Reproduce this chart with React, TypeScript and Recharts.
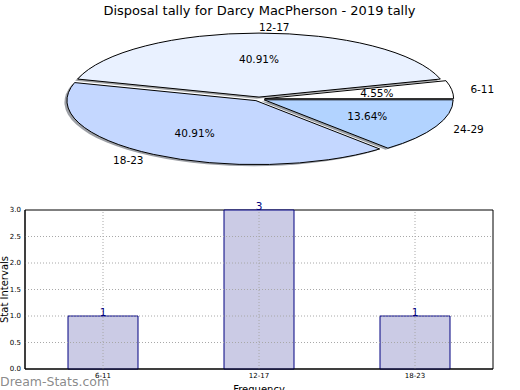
import React from 'react';
import { PieChart, Pie, BarChart, Bar, XAxis, YAxis, ReferenceLine, ReferenceArea, LabelList, Label } from 'recharts';

const TITLE = 'Disposal tally for Darcy MacPherson - 2019 tally';
const pieLabels = ['6-11', '12-17', '18-23', '24-29'];
const pieValues = [1, 9, 9, 3];
const pieColors = ['#ffffff', '#e9f1ff', '#c4d7ff', '#b2d3ff'];
const shadowColors = ['#4d4d4d', '#464a4d', '#3b414d', '#363f4d'];

const barCategories = ['6-11', '12-17', '18-23'];
const barValues = [1, 3, 1];
const yTicks = [0, 0.5, 1, 1.5, 2, 2.5, 3];
const gridY = [0.5, 1, 1.5, 2, 2.5];

const FONT = 'DejaVu Sans, Verdana, sans-serif';
const RY_RATIO = 64 / 189;
const EXPLODE = 0.03;
const RAD = Math.PI / 180;

const pieData = pieLabels.map((name, i) => ({ name, value: pieValues[i] }));
const barData = barCategories.map((name, i) => ({ name, value: barValues[i] }));

function geom(p: any) {
  const rx = p.outerRadius;
  const ry = rx * RY_RATIO;
  const mid = (p.startAngle + p.endAngle) / 2;
  const ax = p.cx + EXPLODE * rx * Math.cos(mid * RAD);
  const ay = p.cy - EXPLODE * ry * Math.sin(mid * RAD);
  return { rx, ry, mid, ax, ay };
}

function slicePath(p: any, dx = 0, dy = 0) {
  const { rx, ry, ax: ax0, ay: ay0 } = geom(p);
  const ax = ax0 + dx;
  const ay = ay0 + dy;
  const pt = (a: number) => [ax + rx * Math.cos(a * RAD), ay - ry * Math.sin(a * RAD)];
  const [x1, y1] = pt(p.startAngle);
  const [x2, y2] = pt(p.endAngle);
  const large = Math.abs(p.endAngle - p.startAngle) > 180 ? 1 : 0;
  const sweep = p.endAngle > p.startAngle ? 0 : 1;
  return `M${ax},${ay} L${x1},${y1} A${rx},${ry} 0 ${large} ${sweep} ${x2},${y2} Z`;
}

const renderShadow = (p: any) => (
  <path key={`sh-${p.index}`} d={slicePath(p, -2.5, 1.6)} fill={shadowColors[p.index]} fillOpacity={0.5} stroke="none" />
);

const renderSlice = (p: any) => (
  <path key={`sl-${p.index}`} d={slicePath(p)} fill={pieColors[p.index]} stroke="#000" strokeWidth={1} strokeLinejoin="miter" />
);

const renderText = (p: any) => {
  const { rx, ry, mid, ax, ay } = geom(p);
  const c = Math.cos(mid * RAD);
  const s = Math.sin(mid * RAD);
  const lx = ax + 1.1 * rx * c;
  const ly = ay - 1.1 * ry * s;
  const px = ax + 0.6 * rx * c;
  const py = ay - 0.6 * ry * s;
  return (
    <g key={`tx-${p.index}`}>
      <text x={lx} y={ly} textAnchor={c >= -1e-9 ? 'start' : 'end'} dominantBaseline="central" fontSize={10.5} fontFamily={FONT} fill="#000">
        {pieLabels[p.index]}
      </text>
      <text x={px} y={py} textAnchor="middle" dominantBaseline="central" fontSize={10.5} fontFamily={FONT} fill="#000">
        {(p.percent * 100).toFixed(2) + '%'}
      </text>
    </g>
  );
};

export default function App() {
  return (
    <div style={{ position: 'absolute', left: 0, top: 0, width: 520, height: 390, background: '#fff', overflow: 'hidden' }}>
      <div style={{ position: 'absolute', left: 0, top: 0 }}>
        <PieChart width={520} height={190} margin={{ top: 0, right: 0, bottom: 0, left: 0 }}>
          <text x={259.5} y={14.5} textAnchor="middle" fontSize={13} fontFamily={FONT} fill="#000">
            {TITLE}
          </text>
          <Pie data={pieData} dataKey="value" nameKey="name" cx={259} cy={99} outerRadius={189} innerRadius={0}
            startAngle={0} endAngle={360} isAnimationActive={false} fill="none" stroke="none"
            label={renderShadow} labelLine={false} />
          <Pie data={pieData} dataKey="value" nameKey="name" cx={259} cy={99} outerRadius={189} innerRadius={0}
            startAngle={0} endAngle={360} isAnimationActive={false} fill="none" stroke="none"
            label={renderSlice} labelLine={false} />
          <Pie data={pieData} dataKey="value" nameKey="name" cx={259} cy={99} outerRadius={189} innerRadius={0}
            startAngle={0} endAngle={360} isAnimationActive={false} fill="none" stroke="none"
            label={renderText} labelLine={false} />
        </PieChart>
      </div>
      <div style={{ position: 'absolute', left: 0, top: 0 }}>
        <BarChart width={520} height={390} data={barData} margin={{ top: 210, right: 27, bottom: 0, left: 0 }} barSize={70}>
          <XAxis dataKey="name" height={21} interval={0} axisLine={{ stroke: '#000' }} tickLine={false}
            tickSize={3} tickMargin={1} tick={{ fontSize: 7, fill: '#000', fontFamily: FONT }}>
            <Label content={(props: any) => {
              const vb = props.viewBox || { x: 25, width: 468 };
              return (
                <text x={vb.x + vb.width / 2} y={392.5} textAnchor="middle" fontSize={10} fontFamily={FONT} fill="#000">Frequency</text>
              );
            }} />
          </XAxis>
          <YAxis width={25} domain={[0, 3]} ticks={yTicks} interval={0} axisLine={{ stroke: '#000' }} tickLine={false}
            tickSize={3} tickMargin={1} tickFormatter={(v: number) => v.toFixed(1)}
            tick={{ fontSize: 7, fill: '#000', fontFamily: FONT }}>
            <Label content={(props: any) => {
              const vb = props.viewBox || { y: 210, height: 159 };
              const cy = vb.y + vb.height / 2;
              return (
                <text x={7.5} y={cy} transform={`rotate(-90, 7.5, ${cy})`} textAnchor="middle" fontSize={10} fontFamily={FONT} fill="#000">Stat Intervals</text>
              );
            }} />
          </YAxis>
          <Bar dataKey="value" fill="#cbcbe5" stroke="#000080" strokeWidth={1} isAnimationActive={false}>
            <LabelList dataKey="value" position="top" offset={0} fill="#000080" fontSize={10.5} fontFamily={FONT} />
          </Bar>
          {gridY.map((v) => (
            <ReferenceLine key={`gy-${v}`} y={v} stroke="#a8a8a8" strokeDasharray="1 2" />
          ))}
          {barCategories.map((c) => (
            <ReferenceLine key={`gx-${c}`} x={c} stroke="#a8a8a8" strokeDasharray="1 2" />
          ))}
          <ReferenceArea y1={0} y2={3} fill="none" fillOpacity={0} stroke="#000" strokeWidth={1} ifOverflow="visible" />
        </BarChart>
      </div>
      <div style={{ position: 'absolute', left: 0, top: 0, pointerEvents: 'none' }}>
        <svg width={520} height={390}>
          <text x={0} y={385.5} fontSize={12.5} fontFamily={FONT} fill="#7c7c7c" fillOpacity={0.9}>Dream-Stats.com</text>
        </svg>
      </div>
    </div>
  );
}
